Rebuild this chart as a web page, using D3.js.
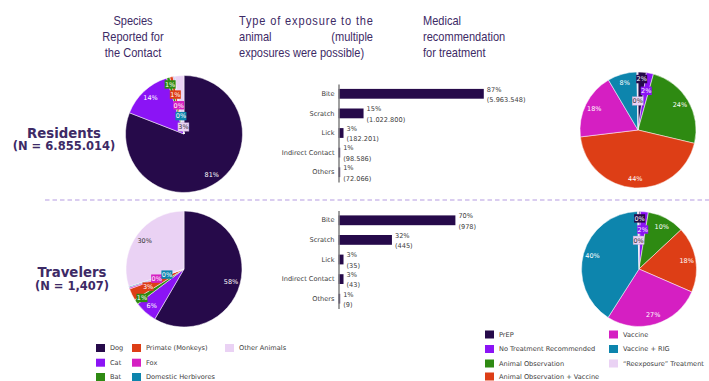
<!DOCTYPE html>
<html>
<head>
<meta charset="utf-8">
<script src="https://cdn.jsdelivr.net/npm/d3@7"></script>
<style>
  html, body { margin: 0; padding: 0; background: #fff; }
  svg { display: block; }
</style>
</head>
<body>
<svg id="chart" width="709" height="381"></svg>
<script>
// ---- data ----
const speciesCategories = ["Dog", "Cat", "Bat", "Primate (Monkeys)", "Fox", "Domestic Herbivores", "Other Animals"];
const speciesResidents = [80.9, 14.3, 0.9, 0.9, 0.2, 0.2, 2.6];
const speciesTravelers = [58.4, 6.3, 1.4, 3.3, 0.4, 0.3, 29.9];

const exposureCategories = ["Bite", "Scratch", "Lick", "Indirect Contact", "Others"];
const exposureResidentsPct = [87, 15, 3, 1, 1];
const exposureResidentsCount = [5963548, 1022800, 182201, 98586, 72066];
const exposureTravelersPct = [70, 32, 3, 3, 1];
const exposureTravelersCount = [978, 445, 35, 43, 9];

const treatmentCategories = ["PrEP", "No Treatment Recommended", "Animal Observation", "Animal Observation + Vaccine", "Vaccine", "Vaccine + RIG", "\u201CReexposure\u201D Treatment"];
const treatmentResidents = [2.3, 2.0, 24.4, 44.4, 18.4, 8.2, 0.3];
const treatmentTravelers = [0.4, 2.2, 10.4, 18.4, 27.4, 40.4, 0.4];

const groupLabels = ["Residents", "Travelers"];
const groupSizes = ["(N = 6.855.014)", "(N = 1,407)"];

// ---- styling ----
const palette = ["#260a4a", "#8b14f5", "#2e8a12", "#dd3e16", "#d51fc2", "#0d85ad", "#ead2f4"];
const darkText = "#3d2a66";
const labelFont = "DejaVu Sans, Verdana, sans-serif";
const narrow = 0.85; // horizontal squeeze for the condensed header face

const svg = d3.select("#chart");
svg.append("rect").attr("width", 709).attr("height", 381).attr("fill", "#fff");

// ---- column headers ----
const headerG = svg.append("g")
  .attr("font-family", "Liberation Sans, Arial, sans-serif")
  .attr("font-size", 13).attr("fill", darkText);
function headLine(x, y, str, anchor, fit) {
  const t = headerG.append("text")
    .attr("transform", `translate(${x},${y}) scale(${narrow},1)`)
    .attr("text-anchor", anchor).text(str);
  if (fit) t.attr("textLength", fit / narrow).attr("lengthAdjust", "spacing");
  return t;
}
["Species", "Reported for", "the Contact"].forEach((s, i) => headLine(133, 24.5 + i * 16, s, "middle"));
headLine(239, 24.5, "Type of exposure to the", "start", 134);
headLine(239, 40.5, "animal", "start");
headLine(373, 40.5, "(multiple", "end");
headLine(239, 56.5, "exposures were possible)", "start");
["Medical", "recommendation", "for treatment"].forEach((s, i) => headLine(423, 24.5 + i * 16, s, "start"));

// ---- row labels ----
const rowLabelPos = [{ x: 64, y: 137.5 }, { x: 72, y: 277.3 }];
groupLabels.forEach((g, i) => {
  const p = rowLabelPos[i];
  svg.append("text").attr("x", p.x).attr("y", p.y).attr("text-anchor", "middle")
    .attr("font-family", labelFont).attr("font-weight", "bold")
    .attr("font-size", 13.3).attr("fill", darkText).text(g);
  svg.append("text").attr("x", p.x).attr("y", p.y + 12.6).attr("text-anchor", "middle")
    .attr("font-family", labelFont).attr("font-weight", "bold")
    .attr("font-size", 11.5).attr("fill", darkText).text(groupSizes[i]);
});

// ---- divider ----
svg.append("line").attr("x1", 45).attr("x2", 709).attr("y1", 200).attr("y2", 200)
  .attr("stroke", "#dacdf0").attr("stroke-width", 2).attr("stroke-dasharray", "4.5,3");

// ---- pies ----
function drawPie(values, cx, cy, r) {
  const total = d3.sum(values);
  const arcs = d3.pie().sort(null).value(d => d)(values);
  const arc = d3.arc().innerRadius(0).outerRadius(r);
  const g = svg.append("g").attr("transform", `translate(${cx},${cy})`);
  g.selectAll("path").data(arcs).join("path")
    .attr("d", arc)
    .attr("fill", (d, i) => palette[i])
    .attr("stroke", "#fff").attr("stroke-width", 0.5);

  let k = 0;
  arcs.forEach((a, i) => {
    const pct = Math.round(a.data) + "%";
    const small = a.data / total * 100 < 5;
    const f = small ? 0.88 - 0.19 * (k++) : 0.84;
    const ang = (a.startAngle + a.endAngle) / 2;
    const x = Math.sin(ang) * r * f, y = -Math.cos(ang) * r * f;
    const txtColor = i === 6 ? "#333" : "#fff";
    const lg = g.append("g").attr("transform", `translate(${x},${y})`);
    if (small) {
      const w = pct.length > 2 ? 13 : 11;
      lg.append("rect").attr("x", -w / 2).attr("y", -4.2).attr("width", w).attr("height", 8.4)
        .attr("fill", palette[i])
        .attr("stroke", i === 6 ? "#b8a6cc" : "none").attr("stroke-width", 0.4);
    }
    lg.append("text").attr("text-anchor", "middle").attr("dy", "0.35em")
      .attr("font-family", labelFont).attr("font-size", 6.5)
      .attr("fill", txtColor).text(pct);
  });
}
drawPie(speciesResidents, 184, 134, 58.5);
drawPie(speciesTravelers, 184, 269, 58);
drawPie(treatmentResidents, 638, 130, 58);
drawPie(treatmentTravelers, 639, 269, 57.5);

// ---- bar charts ----
const xBar = d3.scaleLinear().domain([0, 100]).range([338.5, 505.5]);
const fmtCount = d3.formatLocale({ decimal: ",", thousands: ".", grouping: [3], currency: ["", ""] }).format(",d");

function drawBars(pcts, counts, top, bottom) {
  const y = d3.scaleBand().domain(exposureCategories).range([top, bottom])
    .paddingInner(0.5).paddingOuter(0.25);
  const g = svg.append("g");
  g.selectAll("rect").data(pcts).join("rect")
    .attr("x", xBar(0))
    .attr("y", (d, i) => y(exposureCategories[i]))
    .attr("width", d => xBar(d) - xBar(0))
    .attr("height", y.bandwidth())
    .attr("fill", "#260a4a");

  const ax = g.append("g").attr("transform", `translate(${xBar(0)},0)`)
    .call(d3.axisLeft(y).tickSize(0).tickPadding(4));
  ax.select(".domain").attr("stroke", "#808080").attr("stroke-width", 1.5);
  ax.selectAll("text").attr("font-family", labelFont).attr("font-size", 6.6).attr("fill", "#404040");

  pcts.forEach((p, i) => {
    const cyb = y(exposureCategories[i]) + y.bandwidth() / 2;
    const lx = xBar(p) + 3;
    g.append("text").attr("x", lx).attr("y", cyb - 4.5).attr("dy", "0.35em")
      .attr("font-family", labelFont).attr("font-size", 6.6).attr("fill", "#404040")
      .text(p + "%");
    g.append("text").attr("x", lx).attr("y", cyb + 6).attr("dy", "0.35em")
      .attr("font-family", labelFont).attr("font-size", 6.6).attr("fill", "#404040")
      .text("(" + fmtCount(counts[i]) + ")");
  });
}
drawBars(exposureResidentsPct, exposureResidentsCount, 84, 182);
drawBars(exposureTravelersPct, exposureTravelersCount, 210.5, 308.5);

// ---- legends ----
function legend(items, rows, colX, rowY) {
  items.forEach((name, i) => {
    const c = Math.floor(i / rows), r = i % rows;
    const x = colX[c], y = rowY[r];
    svg.append("rect").attr("x", x).attr("y", y - 4).attr("width", 9).attr("height", 8)
      .attr("fill", palette[i]);
    svg.append("text").attr("x", x + 14).attr("y", y).attr("dy", "0.35em")
      .attr("font-family", labelFont).attr("font-size", 6.6).attr("fill", "#404040")
      .text(name);
  });
}
legend(speciesCategories, 3, [96, 132, 225], [348, 362.7, 377]);
legend(treatmentCategories, 4, [485, 609], [334.5, 349, 363.5, 376.5]);
</script>
</body>
</html>
